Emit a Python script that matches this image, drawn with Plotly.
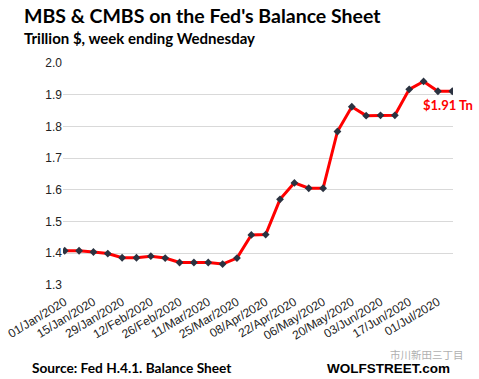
import plotly.graph_objects as go
import datetime as dt

# Data
dates = [(dt.date(2020, 1, 1) + dt.timedelta(days=7 * i)).strftime("%d/%b/%Y") for i in range(28)]
values = [1.408, 1.408, 1.404, 1.399, 1.386, 1.386, 1.391, 1.385, 1.371, 1.371,
          1.371, 1.366, 1.385, 1.458, 1.459, 1.570, 1.622, 1.605, 1.605, 1.784,
          1.862, 1.834, 1.835, 1.835, 1.917, 1.942, 1.911, 1.911]
tick_labels = dates[::2]
y_ticks = [1.3, 1.4, 1.5, 1.6, 1.7, 1.8, 1.9, 2.0]

W, H = 479, 379
L, R, T, B = 63, 26, 63, 94
PW, PH = W - L - R, H - T - B

def px(x):
    return (x - L) / PW

def py(y):
    return (H - B - y) / PH

fig = go.Figure()
fig.add_trace(go.Scatter(
    x=dates, y=values, mode="lines+markers",
    line=dict(color="#ff0000", width=3),
    marker=dict(symbol="diamond", size=6, color="#2b3240"),
    showlegend=False, hoverinfo="x+y"))

fig.update_layout(
    width=W, height=H,
    margin=dict(l=L, r=R, t=T, b=B, autoexpand=False),
    paper_bgcolor="white", plot_bgcolor="white",
    font=dict(family="Liberation Sans, Arial, sans-serif", color="#222222"),
    xaxis=dict(type="category", tickmode="array", tickvals=tick_labels, ticktext=tick_labels,
               tickangle=-31, range=[-0.12, 27.05], showgrid=False, zeroline=False,
               showline=False, ticks="", automargin=False, ticklabelstandoff=7,
               tickfont=dict(size=12, color="#222222")),
    yaxis=dict(range=[1.3, 2.0], tickmode="array", tickvals=y_ticks,
               ticktext=[f"{v:.1f}" for v in y_ticks], showgrid=True, gridcolor="#d9d9d9",
               gridwidth=1, zeroline=False, showline=False, ticks="", automargin=False,
               tickfont=dict(size=12, color="#222222")),
)

ann = [
    dict(text="<b>MBS & CMBS on the Fed's Balance Sheet</b>", x=px(22), y=py(16),
         font=dict(size=19.5, family="Lato, sans-serif", color="black")),
    dict(text="<b>Trillion $, week ending Wednesday</b>", x=px(22), y=py(38),
         font=dict(size=15, family="Lato, sans-serif", color="black")),
    dict(text="<b>Source: Fed H.4.1. Balance Sheet</b>", x=px(30), y=py(367),
         font=dict(size=13.7, family="Lato, sans-serif", color="black")),
    dict(text="<b>WOLFSTREET.com</b>", x=px(325), y=py(368),
         font=dict(size=13.5, family="Liberation Sans, Arial, sans-serif", color="black")),
    dict(text="<b>$1.91 Tn</b>", x=px(421), y=py(105),
         font=dict(size=13, family="Lato, sans-serif", color="#ff0000")),
    dict(text="市川新田三丁目", x=px(388), y=py(354),
         font=dict(size=10.5, family="Noto Sans CJK SC", color="#b0b0b0")),
]
for a in ann:
    a.update(xref="paper", yref="paper", xanchor="left", yanchor="middle", showarrow=False)
fig.update_layout(annotations=ann)

fig.write_html("out.html", config={"displayModeBar": False},
               post_script="document.body.style.margin='0';document.body.style.overflow='hidden';")
